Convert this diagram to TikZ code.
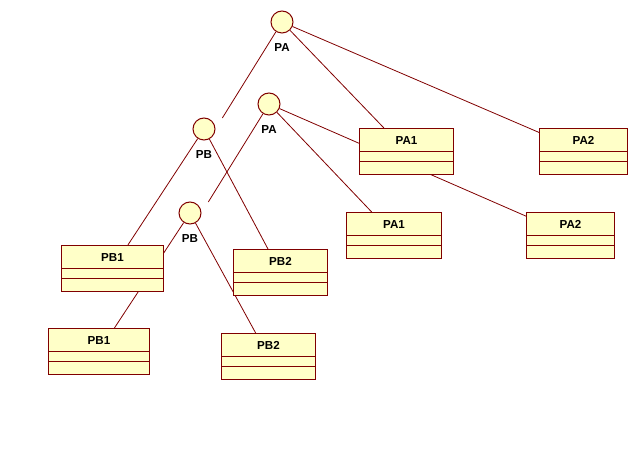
\documentclass[tikz,border=0pt]{standalone}
\usepackage{fontspec}
\setmainfont{Liberation Sans}
\usetikzlibrary{backgrounds}
\definecolor{umlline}{RGB}{128,0,0}
\definecolor{umlfill}{RGB}{255,255,200}
\begin{document}
\begin{tikzpicture}[x=0.75pt, y=-0.75pt,
    every node/.style={font=\fontsize{8.7}{10}\selectfont\bfseries},
    iface/.style={circle, draw=umlline, fill=umlfill, line width=0.75pt, minimum size=16.5pt, inner sep=0pt},
    lbl/.style={yshift=-4pt},
    cls/.style={draw=umlline, fill=umlfill, line width=0.75pt, anchor=north west, inner sep=0pt, minimum height=34.5pt, text height=12pt, text depth=22.5pt},
    link/.style={draw=umlline, line width=0.6pt}]
  \useasboundingbox (0,0) rectangle (635,459);
  % interfaces
  \node[iface, label={[lbl]below:PA}] (ipa) at (282,22) {};
  \node[iface, label={[lbl]below:PB}] (ipb) at (204,129) {};
  \node[iface, label={[lbl]below:PA}] (ipa2) at (269,104) {};
  \node[iface, label={[lbl]below:PB}] (ipb2) at (190,213) {};
  % classes
  \foreach \n/\x/\y/\w/\t in {pa1/359/128/94/PA1, pa2/539/128/88/PA2, pa1b/346/212/95/PA1, pa2b/526/212/88/PA2,
                              pb1/61/245/102/PB1, pb2/233/249/94/PB2, pb1b/48/328/101/PB1, pb2b/221/333/94/PB2} {
    \node[cls, minimum width=\w*0.75pt] (\n) at (\x,\y) {\t};
    \draw[umlline, line width=0.75pt] (\n.north west) ++(0,24) -- ++(\w,0) ++(-\w,10) -- ++(\w,0);
  }
  % links
  \begin{scope}[on background layer]
    \draw[link, shorten >=9.75pt] (ipa) -- (ipb.east);
    \draw[link, shorten >=9.75pt] (ipa2) -- (ipb2.east);
    \foreach \a/\b in {ipa/pa1, ipa/pa2, ipb/pb1, ipb/pb2,
                       ipa2/pa1b, ipa2/pa2b, ipb2/pb1b, ipb2/pb2b}
      \draw[link] (\a) -- (\b);
  \end{scope}
\end{tikzpicture}
\end{document}
